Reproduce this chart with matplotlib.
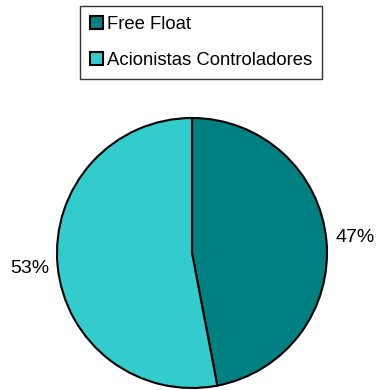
import matplotlib.pyplot as plt
from matplotlib.patches import Patch

labels = ['Free Float', 'Acionistas Controladores']
shares = [47, 53]
colors = ['#008080', '#33CCCC']

plt.rcParams['font.family'] = ['Liberation Sans', 'DejaVu Sans']

fig = plt.figure(figsize=(3.77, 3.90), dpi=100)
ax = fig.add_axes([57 / 377, 2 / 390, 270 / 377, 270 / 390])

ax.pie(shares, colors=colors, startangle=90, counterclock=False,
       autopct='%1.0f%%', pctdistance=1.21, radius=1.0,
       wedgeprops={'edgecolor': 'black', 'linewidth': 1.5},
       textprops={'fontsize': 14, 'color': 'black'})
ax.set_xlim(-1, 1)
ax.set_ylim(-1, 1)
ax.set_aspect('equal')
for t in ax.texts:
    t.set_clip_on(False)

handles = [Patch(facecolor=c, edgecolor='black', linewidth=1.5) for c in colors]
leg = fig.legend(handles, labels, loc='upper left',
                 bbox_to_anchor=(80 / 377, 1 - 6 / 390), fontsize=13.3,
                 frameon=True, fancybox=False, edgecolor='black',
                 handlelength=0.7, handleheight=0.7, handletextpad=0.2,
                 labelspacing=1.0, borderpad=0.55, borderaxespad=0)
leg.get_frame().set_linewidth(1.0)

fig.savefig('out.png', dpi=100)
